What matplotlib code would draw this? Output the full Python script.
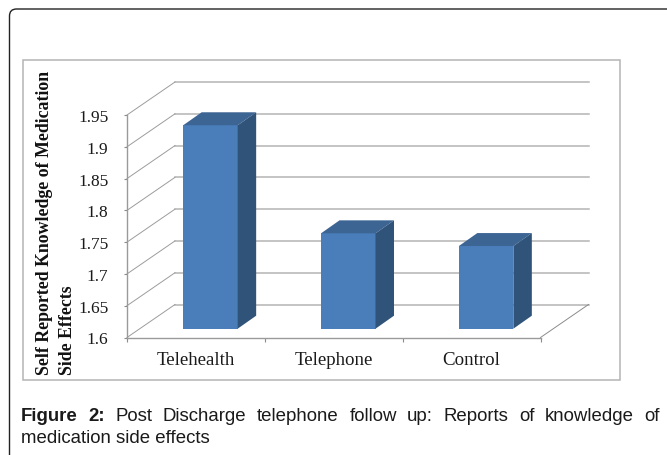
import matplotlib
matplotlib.use('Agg')
import matplotlib.pyplot as plt
from matplotlib.patches import FancyBboxPatch, Polygon, Rectangle

# values
categories = ['Telehealth', 'Telephone', 'Control']
values = [1.92, 1.75, 1.73]
y_ticks = [1.6, 1.65, 1.7, 1.75, 1.8, 1.85, 1.9, 1.95]
y_labels = ['1.6', '1.65', '1.7', '1.75', '1.8', '1.85', '1.9', '1.95']
ylabel_lines = ['Self Reported Knowledge of Medication', 'Side Effects']
caption_bold = 'Figure 2:'
caption_line1 = 'Post Discharge telephone follow up: Reports of knowledge of'
caption_line2 = 'medication side effects'

W, H = 667, 456
fig = plt.figure(figsize=(W / 100, H / 100), dpi=100)

# page layer in pixel coordinates: frame, chart box and caption
page = fig.add_axes([0, 0, 1, 1])
page.set_xlim(0, W)
page.set_ylim(H, 0)
page.axis('off')
page.add_patch(FancyBboxPatch((9.5, 10), W + 40, H + 40, boxstyle='round,pad=0,rounding_size=7',
                              fc='white', ec='#222222', lw=1.0))
page.add_patch(Rectangle((22.5, 61), 597, 320, fc='white', ec='#b4b4b4', lw=1.1))

# front plane of the 3d chart, the depth is added as an offset
left, right, y_top, y_bottom = 127, 540.5, 116, 338.5
ax = fig.add_axes([left / W, 1 - y_bottom / H, (right - left) / W, (y_bottom - y_top) / H])
ax.patch.set_alpha(0)
ax.set_xlim(0, 3)
ax.set_ylim(1.6, 1.95)
px = 3 / (right - left)
py = 0.35 / (y_bottom - y_top)
depth_x, depth_y = 48 * px, 33 * py

for s in ['top', 'right']:
    ax.spines[s].set_visible(False)
for s in ['left', 'bottom']:
    ax.spines[s].set_color('#9a9a9a')
    ax.spines[s].set_linewidth(1.0)

# back wall and side wall grid
for t in y_ticks:
    ax.plot([depth_x, 3 + depth_x], [t + depth_y, t + depth_y], color='#b4b4b4', lw=1.1,
            clip_on=False, zorder=1)
    ax.plot([0, depth_x], [t, t + depth_y], color='#9c9c9c', lw=0.7, clip_on=False, zorder=1)
ax.plot([3, 3 + depth_x], [1.6, 1.6 + depth_y], color='#8c8c8c', lw=0.7, clip_on=False, zorder=1)

# bars: front from ax.bar, top and side as polygons
bar_w = 54.5 * px
shift_x = 14.5 * px
base = 1.6 + 8.8 * py
side_x, side_y = 18.5 * px, 13 * py
positions = [i + 0.5 + shift_x for i in range(len(values))]
heights = [v - 1.6 for v in values]
ax.bar(positions, heights, width=bar_w, bottom=base, color='#4a7ebb', clip_on=False, zorder=3)
for c, h in zip(positions, heights):
    x0, x1 = c - bar_w / 2, c + bar_w / 2
    top = base + h
    ax.add_patch(Polygon([(x0, top), (x1, top), (x1 + side_x, top + side_y), (x0 + side_x, top + side_y)],
                         fc='#3d6594', ec='none', clip_on=False, zorder=3))
    ax.add_patch(Polygon([(x1, base), (x1 + side_x, base + side_y), (x1 + side_x, top + side_y), (x1, top)],
                         fc='#305379', ec='none', clip_on=False, zorder=3))

ax.set_yticks(y_ticks)
ax.set_yticklabels(y_labels, fontfamily='Liberation Serif', fontsize=12.5, color='#1a1a1a')
ax.tick_params(axis='y', length=2.5, width=0.8, color='#8c8c8c', pad=11)
ax.set_xticks([0, 1, 2, 3])
ax.set_xticklabels([])
ax.tick_params(axis='x', length=3, width=0.8, color='#8c8c8c')
for i, name in enumerate(categories):
    ax.text(i + 0.5, 1.6 - 22 * py, name, ha='center', va='center', fontfamily='Liberation Serif',
            fontsize=13.6, color='#1a1a1a', clip_on=False)

# two line axis title, both lines start at the bottom
page.text(45, 375, ylabel_lines[0], rotation=90, ha='center', va='bottom', fontfamily='Liberation Serif',
          fontweight='bold', fontsize=12.8, color='#111111')
page.text(67, 375, ylabel_lines[1], rotation=90, ha='center', va='bottom', fontfamily='Liberation Serif',
          fontweight='bold', fontsize=12.8, color='#111111')

# justified first caption line
renderer = fig.canvas.get_renderer()
x_start, x_end = 21, 660
base1, base2 = 421, 443.5
font = dict(fontfamily='Liberation Sans', fontsize=13.4, color='#1a1a1a', va='baseline')
pieces = [(w, 'bold') for w in caption_bold.split()] + [(w, 'normal') for w in caption_line1.split()]
items = [page.text(x_start, base1, w, fontweight=fw, **font) for w, fw in pieces]
widths = [t.get_window_extent(renderer).width for t in items]
gap = (x_end - x_start - sum(widths)) / (len(items) - 1)
x = x_start
for t, w in zip(items, widths):
    t.set_x(x)
    x += w + gap
page.text(x_start, base2, caption_line2, **font)

fig.savefig('out.png', dpi=100)
